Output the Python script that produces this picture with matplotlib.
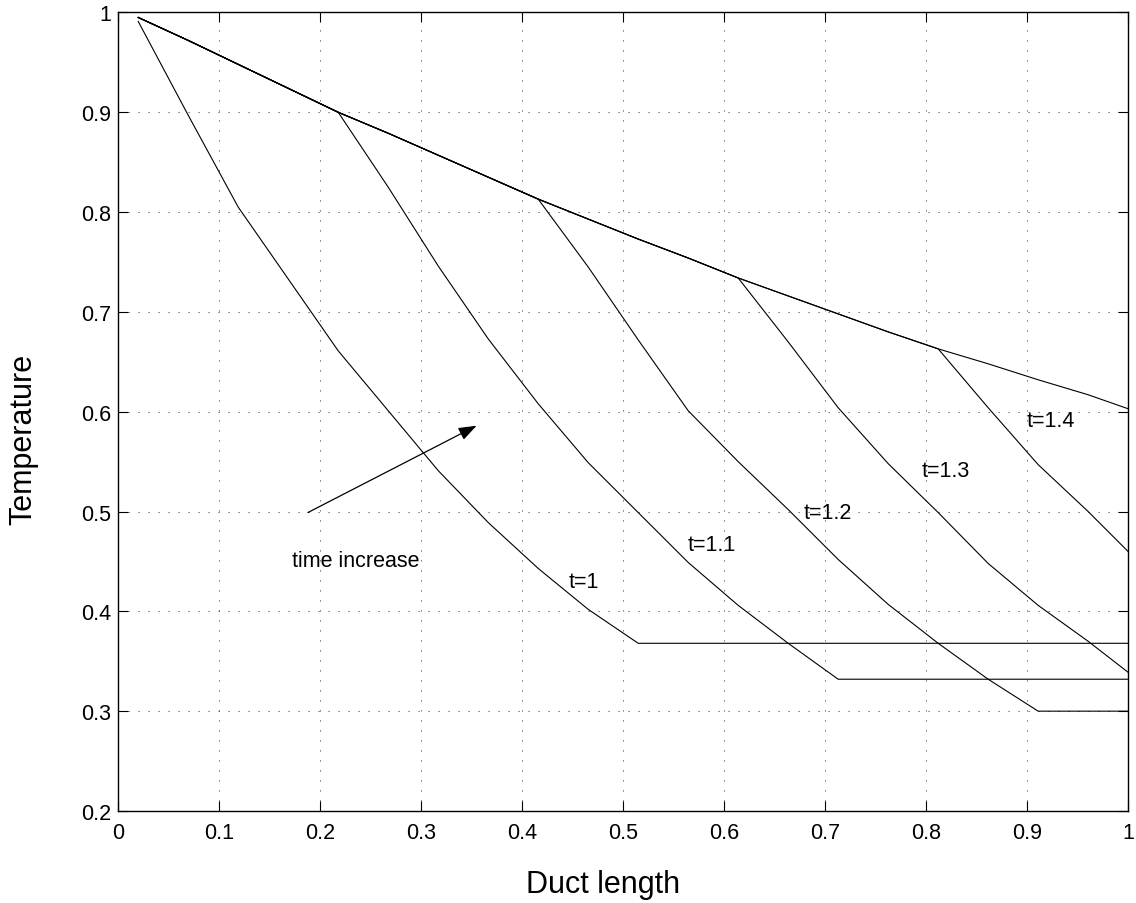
import matplotlib
matplotlib.use("Agg")
import matplotlib.pyplot as plt

plt.rcParams['font.family'] = ['Liberation Sans', 'DejaVu Sans']

# Stations along the duct (shared abscissa for all profiles)
duct_x = [0.02, 0.0695, 0.119, 0.1685, 0.218, 0.2675, 0.317, 0.3665, 0.416,
          0.4655, 0.515, 0.5645, 0.614, 0.6635, 0.713, 0.7625, 0.812,
          0.8615, 0.911, 0.9605, 1.0]

# Upper envelope: inlet temperature history seen along the duct
envelope = [0.995, 0.972, 0.948, 0.924, 0.900, 0.879, 0.857, 0.835, 0.813,
            0.793, 0.773, 0.754, 0.734, 0.716, 0.698, 0.680, 0.663, 0.648,
            0.632, 0.617, 0.603]

# Temperature-front profiles for each time, starting at the branch station
times = ["t=1", "t=1.1", "t=1.2", "t=1.3", "t=1.4"]
branch_index = [0, 4, 8, 12, 16]
front_t10 = [0.991, 0.897, 0.805, 0.733, 0.661, 0.601, 0.541, 0.489, 0.443, 0.402, 0.368]
front_t11 = [0.900, 0.825, 0.746, 0.673, 0.608, 0.549, 0.499, 0.449, 0.406, 0.368, 0.332]
front_t12 = [0.813, 0.745, 0.672, 0.601, 0.550, 0.502, 0.452, 0.407, 0.368, 0.332, 0.300]
front_t13 = [0.734, 0.670, 0.604, 0.548, 0.499, 0.448, 0.406, 0.370, 0.339]
front_t14 = [0.663, 0.604, 0.547, 0.500, 0.460]
fronts = [front_t10, front_t11, front_t12, front_t13, front_t14]

# Label placement for each profile (data coordinates)
label_x = [0.461, 0.588, 0.703, 0.820, 0.924]
label_y = [0.430, 0.467, 0.499, 0.541, 0.591]

x_ticks = [0, 0.1, 0.2, 0.3, 0.4, 0.5, 0.6, 0.7, 0.8, 0.9, 1.0]
x_tick_labels = ["0", "0.1", "0.2", "0.3", "0.4", "0.5", "0.6", "0.7", "0.8", "0.9", "1"]
y_ticks = [0.2, 0.3, 0.4, 0.5, 0.6, 0.7, 0.8, 0.9, 1.0]
y_tick_labels = ["0.2", "0.3", "0.4", "0.5", "0.6", "0.7", "0.8", "0.9", "1"]

fig = plt.figure(figsize=(11.36, 9.04), dpi=100)
ax = fig.add_axes([0.1039, 0.1018, 0.8891, 0.8833])

line_kw = dict(color='black', lw=0.8, solid_joinstyle='miter')

# full envelope
ax.plot(duct_x, envelope, **line_kw)

for b, front in zip(branch_index, fronts):
    n = len(front)
    xs = list(duct_x[:b]) + list(duct_x[b:b + n])
    ys = list(envelope[:b]) + list(front)
    # hold the minimum value downstream of the front
    if b + n - 1 < len(duct_x) - 1:
        xs.append(duct_x[-1])
        ys.append(front[-1])
    ax.plot(xs, ys, **line_kw)

for name, lx, ly in zip(times, label_x, label_y):
    ax.text(lx, ly, name, fontsize=15.5, ha='center', va='center')

ax.annotate("", xy=(0.355, 0.586), xytext=(0.188, 0.499),
            arrowprops=dict(arrowstyle="-|>,head_length=0.55,head_width=0.2",
                            color='black', lw=0.9, mutation_scale=20,
                            shrinkA=0, shrinkB=0))
ax.text(0.235, 0.451, "time increase", fontsize=15.5, ha='center', va='center')

ax.set_xlim(0, 1)
ax.set_ylim(0.2, 1)
ax.set_xticks(x_ticks)
ax.set_xticklabels(x_tick_labels)
ax.set_yticks(y_ticks)
ax.set_yticklabels(y_tick_labels)

ax.grid(True, color='0.25', linestyle=(0, (1.5, 10.5)), lw=0.6)
ax.tick_params(direction='in', length=7, width=0.8, top=True, right=True,
               labelsize=15.5)
ax.tick_params(axis='x', pad=8)
ax.tick_params(axis='y', pad=5)
for s in ax.spines.values():
    s.set_linewidth(1.0)

ax.set_xlabel("Duct length", fontsize=22, va='center')
ax.set_ylabel("Temperature", fontsize=22, va='center')
ax.xaxis.set_label_coords(0.4807, -0.0914)
ax.yaxis.set_label_coords(-0.094, 0.467)

fig.savefig("out.png", dpi=100)
